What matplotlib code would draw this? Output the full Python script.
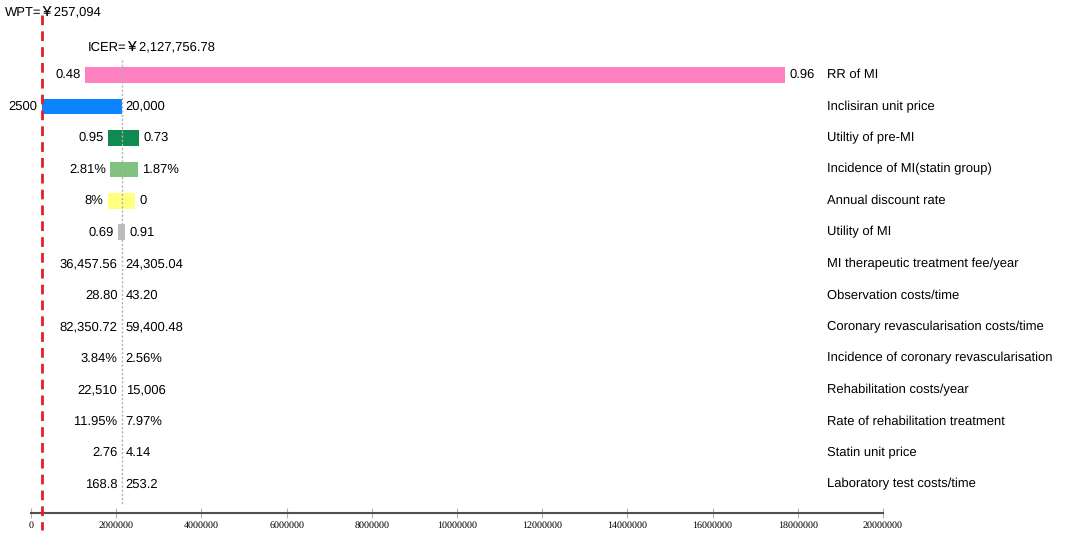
import matplotlib
matplotlib.use("Agg")
import matplotlib.pyplot as plt

plt.rcParams["text.hinting"] = "no_hinting"
plt.rcParams["text.hinting_factor"] = 1

# ---- data ----
params = ["RR of MI", "Inclisiran unit price", "Utiltiy of pre-MI",
          "Incidence of MI(statin group)", "Annual discount rate", "Utility of MI",
          "MI therapeutic treatment fee/year", "Observation costs/time",
          "Coronary revascularisation costs/time",
          "Incidence of coronary revascularisation", "Rehabilitation costs/year",
          "Rate of rehabilitation treatment", "Statin unit price",
          "Laboratory test costs/time"]
left_labels = ["0.48", "2500", "0.95", "2.81%", "8%", "0.69", "36,457.56", "28.80",
               "82,350.72", "3.84%", "22,510", "11.95%", "2.76", "168.8"]
right_labels = ["0.96", "20,000", "0.73", "1.87%", "0", "0.91", "24,305.04", "43.20",
                "59,400.48", "2.56%", "15,006", "7.97%", "4.14", "253.2"]
icer_base = 2127756.78
wpt = 257094
icer_low = [1268000, 250000, 1808000, 1854000, 1800000, 2050000, icer_base, icer_base,
            icer_base, icer_base, icer_base, icer_base, icer_base, icer_base]
icer_high = [17700000, icer_base, 2535000, 2512000, 2450000, 2210000, icer_base, icer_base,
             icer_base, icer_base, icer_base, icer_base, icer_base, icer_base]
bar_colors = ["#FF80C0", "#0A84FF", "#108A50", "#80C280", "#FFFF80", "#BDBDBD",
              "#BDBDBD", "#BDBDBD", "#BDBDBD", "#BDBDBD", "#BDBDBD", "#BDBDBD",
              "#BDBDBD", "#BDBDBD"]
xticks = [0, 2000000, 4000000, 6000000, 8000000, 10000000, 12000000, 14000000,
          16000000, 18000000, 20000000]

fam = ["Liberation Sans", "Noto Sans CJK SC", "DejaVu Sans"]
fs = 9.6

fig = plt.figure(figsize=(10.65, 5.4), dpi=100)
ax = fig.add_axes([31 / 1065, 27 / 540, 852 / 1065, 513 / 540])
ax.set_xlim(0, 20000000)
ax.set_ylim(13.92, -2.384)

ys = list(range(len(params)))
for y, lo, hi, c, ll, rl, p in zip(ys, icer_low, icer_high, bar_colors,
                                   left_labels, right_labels, params):
    if hi > lo:
        ax.barh(y, hi - lo, left=lo, height=0.5, color=c, zorder=2)
    ax.annotate(ll, (lo, y), xytext=(-3, 0), textcoords="offset points",
                ha="right", va="center", fontsize=fs, family=fam, zorder=4)
    ax.annotate(rl, (hi, y), xytext=(3, 0), textcoords="offset points",
                ha="left", va="center", fontsize=fs, family=fam, zorder=4)
    ax.text(18690000, y, p, ha="left", va="center", fontsize=fs, family=fam,
            clip_on=False)

# ICER line
ax.plot([icer_base, icer_base], [-0.48, 13.67], color="#B0B0B0", lw=1,
        linestyle=(0, (1.5, 1.5)), zorder=3, clip_on=False)
# WPT line
ax.plot([wpt, wpt], [-1.9, 14.46], color="#E0202A", lw=2,
        linestyle=(0, (3.5, 2.2)), zorder=5, clip_on=False)

ax.text(-610000, -1.98, "WPT=￥257,094", ha="left", va="center", fontsize=fs,
        family=fam, clip_on=False)
ax.text(1340000, -0.85, "ICER=￥2,127,756.78", ha="left", va="center", fontsize=fs,
        family=fam, clip_on=False)

for s in ["top", "right", "left"]:
    ax.spines[s].set_visible(False)
ax.spines["bottom"].set_color("#505050")
ax.spines["bottom"].set_linewidth(1.5)
ax.set_yticks([])
ax.set_xticks(xticks)
ax.set_xticklabels([str(t) for t in xticks], family="Liberation Serif", fontsize=7.5)
ax.tick_params(axis="x", direction="inout", length=7, width=0.8, color="#B0B0B0",
               pad=2)
ax.patch.set_alpha(0)

fig.savefig("out.png", dpi=100)
